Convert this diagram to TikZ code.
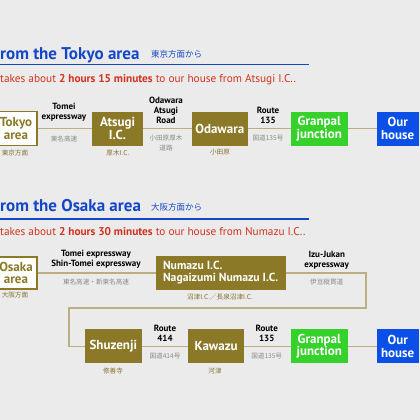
\documentclass[tikz,border=0pt]{standalone}
\usepackage{fontspec}
\setmainfont{PT Sans}
\newfontfamily\jp{Noto Sans CJK JP}
\definecolor{bgc}{HTML}{EBEBEB}
\definecolor{olive}{HTML}{8B7928}
\definecolor{olivetext}{HTML}{857434}
\definecolor{titleblue}{HTML}{1447C8}
\definecolor{redtext}{HTML}{D2321E}
\definecolor{greenbox}{HTML}{36D12B}
\definecolor{bluebox}{HTML}{0A50E6}
\definecolor{jpgray}{HTML}{8A8A8A}
\definecolor{roadcol}{HTML}{BDAE82}
\begin{document}
\begin{tikzpicture}[x=1pt,y=-1pt,
  box/.style={minimum height=34pt, inner sep=0pt, align=center, text=white,
    font=\bfseries\fontsize{13}{12.5}\selectfont},
  olivebox/.style={box, fill=olive},
  startbox/.style={box, fill=white, draw=olive, line width=1.5pt, text=olive},
  gbox/.style={box, fill=greenbox},
  bbox/.style={box, fill=bluebox},
  road/.style={draw=roadcol, line width=1.6pt},
  rname/.style={inner sep=0pt, align=center, font=\bfseries\fontsize{9}{9.8}\selectfont},
  jpg/.style={inner sep=0pt, align=center, text=jpgray, font=\jp\fontsize{6.6}{10}\selectfont},
  jpo/.style={inner sep=0pt, align=center, text=olivetext, font=\jp\fontsize{6.6}{10}\selectfont},
  ttl/.style={inner sep=0pt, anchor=base west, text=titleblue, font=\bfseries\fontsize{17}{20}\selectfont},
  ttljp/.style={inner sep=0pt, anchor=base west, text=titleblue, font=\jp\fontsize{8.5}{10}\selectfont},
  red/.style={inner sep=0pt, anchor=base west, text=redtext, font=\fontsize{11.3}{12}\selectfont}
]
\fill[bgc] (0,0) rectangle (420,420);
\useasboundingbox (0,0) rectangle (420,420);
\clip (0,0) rectangle (420,420);

% ---------- Tokyo section ----------
\node[ttl] (t1) at (0,59.5) {\llap{F}rom the Tokyo area};
\node[ttljp] (t1jp) at (151,58) {東京方面から};
\coordinate (u1a) at (-5,64.3);
\coordinate (u1b) at (309,64.3);
\draw[titleblue, line width=1.3pt] (u1a) -- (u1b);
\node[red] (r1) at (0,82) {\llap{It }takes about \textbf{2 hours 15 minutes} to our house from Atsugi I.C..};

\node[startbox, minimum width=42pt] (tokyo) at (16,128.5) {Tokyo\\area};
\node[olivebox, minimum width=51pt] (atsugi) at (117.5,128.5) {Atsugi\\I.C.};
\node[olivebox, minimum width=55.5pt] (odawara) at (219.8,128.5) {Odawara};
\node[gbox, minimum width=56.7pt] (gran1) at (319.3,128.5) {Granpal\\junction};
\node[bbox, minimum width=42pt] (house1) at (397.7,128.5) {Our\\house};

\draw[road] (tokyo.east) -- (atsugi.west);
\draw[road] (atsugi.east) -- (odawara.west);
\draw[road] (odawara.east) -- (gran1.west);
\draw[road] (gran1.east) -- (house1.west);

\node[rname] (l1) at (64,112.5) {Tomei\\expressway};
\node[jpg] (j1) at (64,138.5) {東名高速};
\node[rname] (l2) at (166,110.5) {Odawara\\Atsugi\\Road};
\node[jpg] (j2) at (166,142.5) {小田原厚木\\道路};
\node[rname] (l3) at (268,115.5) {Route\\135};
\node[jpg] (j3) at (268,138) {国道135号};
\node[jpo] (o1) at (15,152.5) {東京方面};
\node[jpo] (o2) at (118,152.5) {厚木I.C.};
\node[jpo] (o3) at (220,152.5) {小田原};

% ---------- Osaka section ----------
\node[ttl] (t2) at (0,211.5) {\llap{F}rom the Osaka area};
\node[ttljp] (t2jp) at (151,210) {大阪方面から};
\coordinate (u2a) at (-5,219);
\coordinate (u2b) at (309,219);
\draw[titleblue, line width=1.3pt] (u2a) -- (u2b);
\node[red] (r2) at (0,235) {\llap{It }takes about \textbf{2 hours 30 minutes} to our house from Numazu I.C..};

\node[startbox, minimum width=42pt, minimum height=32pt] (osaka) at (16,272.8) {Osaka\\area};
\node[olivebox, minimum width=130pt, minimum height=34.3pt, align=left,
  font=\bfseries\fontsize{11.7}{12.5}\selectfont] (numazu) at (220.7,272.8) {Numazu I.C.\\Nagaizumi Numazu I.C.};
\node[olivebox, minimum width=56.7pt] (shuzenji) at (113.3,346.3) {Shuzenji};
\node[olivebox, minimum width=55.7pt] (kawazu) at (216.2,346.3) {Kawazu};
\node[gbox, minimum width=56.7pt] (gran2) at (319.3,346.3) {Granpal\\junction};
\node[bbox, minimum width=42pt] (house2) at (397.7,346.3) {Our\\house};

\coordinate (c1) at (366,272.8);
\coordinate (c2) at (366,308);
\coordinate (c3) at (69,308);
\coordinate (c4) at (69,346.3);
\draw[road] (osaka.east) -- (numazu.west);
\draw[road] (numazu.east) -- (c1) -- (c2) -- (c3) -- (c4) -- (shuzenji.west);
\draw[road] (shuzenji.east) -- (kawazu.west);
\draw[road] (kawazu.east) -- (gran2.west);
\draw[road] (gran2.east) -- (house2.west);

\node[rname] (m1) at (96,259.5) {Tomei expressway\\Shin-Tomei expressway};
\node[jpg] (k1) at (96,282) {東名高速・新東名高速};
\node[rname] (m2) at (326.7,260.5) {Izu-Jukan\\expressway};
\node[jpg] (k2) at (326.7,282) {伊豆縦貫道};
\node[rname] (m3) at (165,333) {Route\\414};
\node[jpg] (k3) at (165,356) {国道414号};
\node[rname] (m4) at (266.7,333) {Route\\135};
\node[jpg] (k4) at (266.7,356) {国道135号};
\node[jpo] (p1) at (15,295) {大阪方面};
\node[jpo] (p2) at (220,297) {沼津I.C.／長泉沼津I.C.};
\node[jpo] (p3) at (113,371) {修善寺};
\node[jpo] (p4) at (215,371) {河津};
\end{tikzpicture}
\end{document}
